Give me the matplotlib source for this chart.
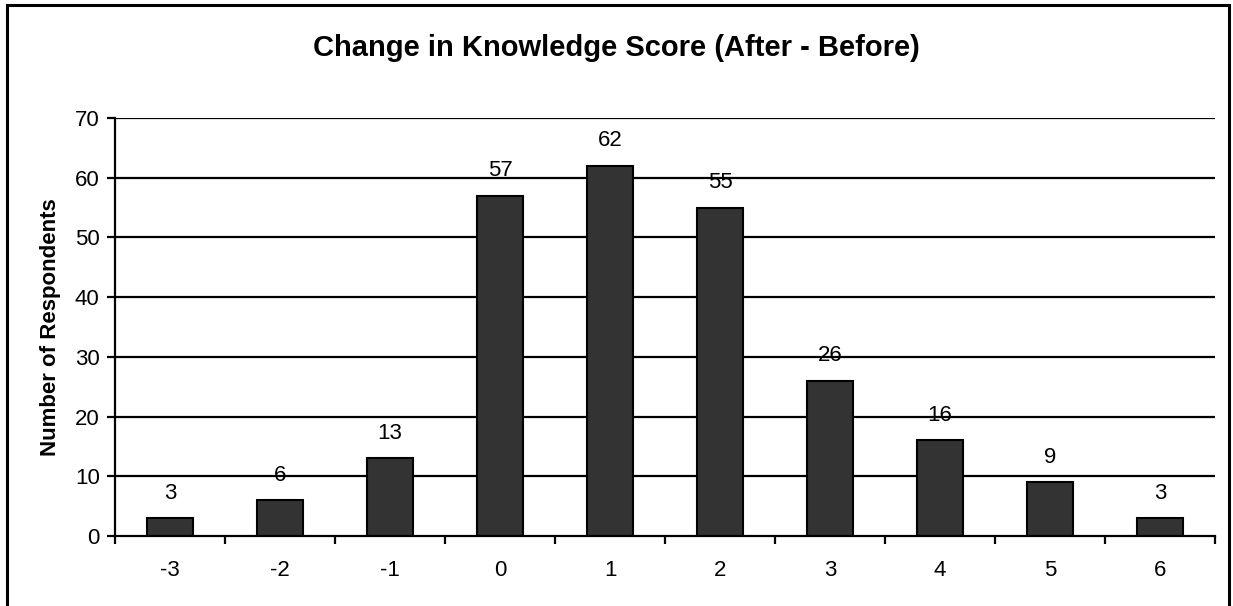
import numpy as np
import matplotlib
matplotlib.use("Agg")
import matplotlib.pyplot as plt
from matplotlib.patches import Rectangle

plt.rcParams['font.family'] = ['Liberation Sans', 'DejaVu Sans']

# data
scores = ['-3', '-2', '-1', '0', '1', '2', '3', '4', '5', '6']
counts = [3, 6, 13, 57, 62, 55, 26, 16, 9, 3]

W, H = 1233, 606
fig = plt.figure(figsize=(W / 100, H / 100), dpi=100)
ax = fig.add_axes([115 / W, 1 - 536 / H, (1215 - 115) / W, (536 - 118) / H])

x = np.arange(len(scores))
for yv in range(10, 80, 10):
    ax.axhline(yv, color='black', lw=1.6, zorder=1)
bars = ax.bar(x, counts, width=0.41, color='#333333', edgecolor='black', lw=1.5, zorder=2)

for xi, c in zip(x, counts):
    ax.annotate(str(c), (xi, c), xytext=(0, 18), textcoords='offset points',
                ha='center', va='center', fontsize=16, zorder=3)

ax.set_xlim(-0.5, len(scores) - 0.5)
ax.set_ylim(0, 70)
ax.set_yticks(range(0, 80, 10))
ax.set_xticks(x)
ax.set_xticklabels(scores)
ax.set_xticks(np.arange(-0.5, len(scores)), minor=True)
ax.tick_params(axis='x', which='major', length=0, pad=17, labelsize=16)
ax.tick_params(axis='x', which='minor', length=6, width=1.6, direction='out')
ax.tick_params(axis='y', length=6, width=1.6, direction='out', pad=5, labelsize=16)

for s in ['top', 'right']:
    ax.spines[s].set_visible(False)
for s in ['left', 'bottom']:
    ax.spines[s].set_linewidth(1.6)

ax.set_ylabel('Number of Respondents', fontsize=16, fontweight='bold', labelpad=10)
fig.text(0.5, 1 - 48 / H, 'Change in Knowledge Score (After - Before)',
         ha='center', va='center', fontsize=21, fontweight='bold')

# outer chart border (bottom edge falls outside the image)
fig.patches.append(Rectangle((7 / W, -0.05), (1229 - 7) / W, 1.05 - 5 / H,
                             transform=fig.transFigure, fill=False,
                             edgecolor='black', lw=2.2))

fig.savefig('out.png', dpi=100)
